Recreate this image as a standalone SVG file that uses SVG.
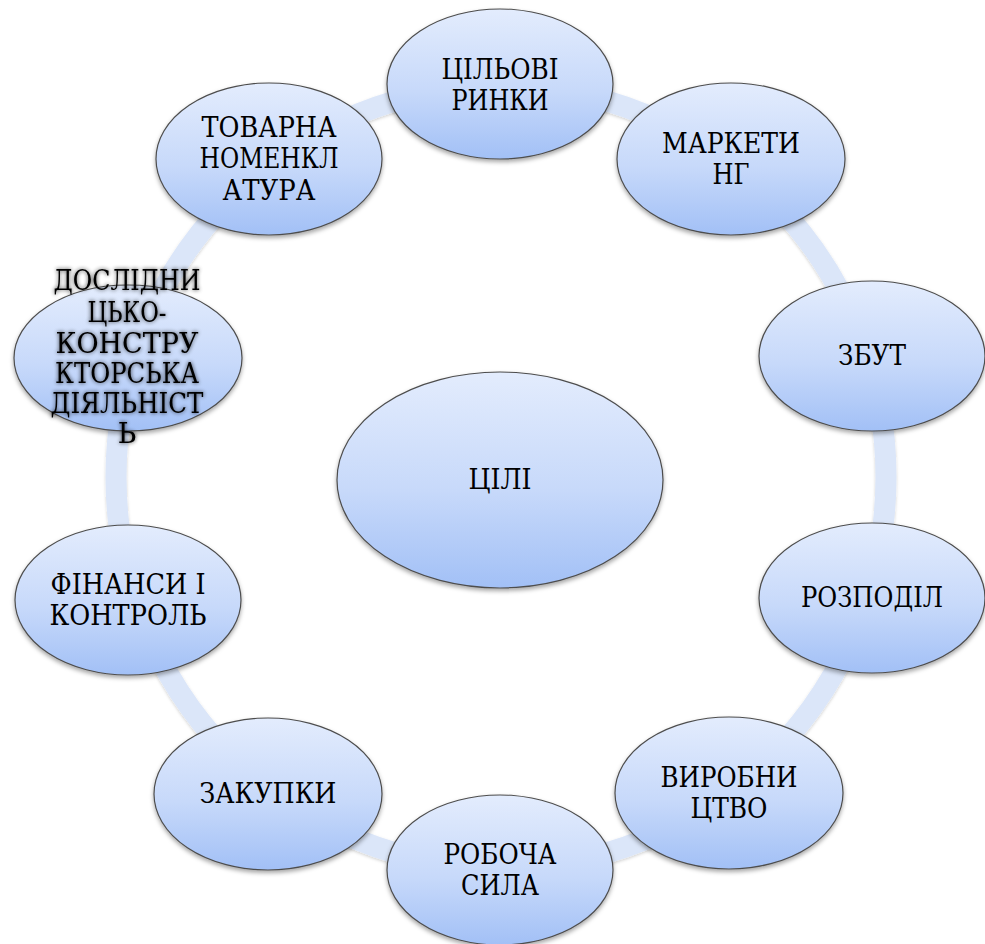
<svg xmlns="http://www.w3.org/2000/svg" width="985" height="944" viewBox="0 0 985 944">
<defs>
<linearGradient id="g" x1="0" y1="0" x2="0" y2="1">
<stop offset="0" stop-color="#e3ecfd"/>
<stop offset="0.55" stop-color="#c7d9fa"/>
<stop offset="1" stop-color="#a2c0f6"/>
</linearGradient>
<filter id="sh" x="-10%" y="-10%" width="120%" height="125%">
<feDropShadow dx="0" dy="2.5" stdDeviation="2" flood-color="#000" flood-opacity="0.35"/>
</filter>
<filter id="rsh" x="-10%" y="-10%" width="120%" height="120%">
<feDropShadow dx="0" dy="1.5" stdDeviation="1.5" flood-color="#000" flood-opacity="0.18"/>
</filter>
<filter id="glow" x="-10%" y="-20%" width="120%" height="140%">
<feGaussianBlur in="SourceAlpha" stdDeviation="2"/>
<feComponentTransfer><feFuncA type="linear" slope="0.8"/></feComponentTransfer>
<feMerge><feMergeNode/><feMergeNode in="SourceGraphic"/></feMerge>
</filter>
</defs>
<style>
.n{fill:url(#g);stroke:#4d4d4d;stroke-width:1.2;filter:url(#sh)}
.t{font-size:27.5px;fill:#000;text-anchor:middle;font-family:'DejaVu Serif','Liberation Serif',serif}
</style>
<rect width="985" height="944" fill="#fff"/>
<g id="connectors">
<ellipse cx="501" cy="477" rx="385" ry="391" fill="none" stroke="#dbe6f9" stroke-width="21" filter="url(#rsh)"/>
</g>
<g id="goals">
<ellipse class="n" cx="500" cy="480" rx="163" ry="108"/>
<text class="t" x="500" y="489" textLength="63" lengthAdjust="spacingAndGlyphs">ЦІЛІ</text>
</g>
<g id="target-markets">
<ellipse class="n" cx="500" cy="84" rx="113" ry="75"/>
<text class="t" x="500" y="79" textLength="117" lengthAdjust="spacingAndGlyphs">ЦІЛЬОВІ</text>
<text class="t" x="500" y="110" textLength="97" lengthAdjust="spacingAndGlyphs">РИНКИ</text>
</g>
<g id="marketing">
<ellipse class="n" cx="731" cy="159" rx="114" ry="76"/>
<text class="t" x="731" y="153" textLength="138" lengthAdjust="spacingAndGlyphs">МАРКЕТИ</text>
<text class="t" x="731" y="184" textLength="37" lengthAdjust="spacingAndGlyphs">НГ</text>
</g>
<g id="sales">
<ellipse class="n" cx="872" cy="356" rx="113" ry="75"/>
<text class="t" x="872" y="365" textLength="68" lengthAdjust="spacingAndGlyphs">ЗБУТ</text>
</g>
<g id="distribution">
<ellipse class="n" cx="872" cy="598" rx="113" ry="75"/>
<text class="t" x="872" y="607" textLength="142" lengthAdjust="spacingAndGlyphs">РОЗПОДІЛ</text>
</g>
<g id="production">
<ellipse class="n" cx="729" cy="793" rx="114" ry="76"/>
<text class="t" x="729" y="787" textLength="137" lengthAdjust="spacingAndGlyphs">ВИРОБНИ</text>
<text class="t" x="729" y="818" textLength="77" lengthAdjust="spacingAndGlyphs">ЦТВО</text>
</g>
<g id="workforce">
<ellipse class="n" cx="500" cy="870" rx="113" ry="75"/>
<text class="t" x="500" y="864" textLength="113" lengthAdjust="spacingAndGlyphs">РОБОЧА</text>
<text class="t" x="500" y="895" textLength="78" lengthAdjust="spacingAndGlyphs">СИЛА</text>
</g>
<g id="purchasing">
<ellipse class="n" cx="268" cy="794" rx="114" ry="76"/>
<text class="t" x="268" y="803" textLength="137" lengthAdjust="spacingAndGlyphs">ЗАКУПКИ</text>
</g>
<g id="finance">
<ellipse class="n" cx="128" cy="600" rx="113" ry="75"/>
<text class="t" x="128" y="594" textLength="155" lengthAdjust="spacingAndGlyphs">ФІНАНСИ І</text>
<text class="t" x="128" y="625" textLength="157" lengthAdjust="spacingAndGlyphs">КОНТРОЛЬ</text>
</g>
<g id="rnd">
<ellipse class="n" cx="128" cy="358" rx="114" ry="73"/>
<g filter="url(#glow)">
<text class="t" x="127" y="290" textLength="147" lengthAdjust="spacingAndGlyphs">ДОСЛІДНИ</text>
<text class="t" x="127" y="322" textLength="79" lengthAdjust="spacingAndGlyphs">ЦЬКО-</text>
<text class="t" x="127" y="353" textLength="143" lengthAdjust="spacingAndGlyphs">КОНСТРУ</text>
<text class="t" x="127" y="383" textLength="144" lengthAdjust="spacingAndGlyphs">КТОРСЬКА</text>
<text class="t" x="127" y="413" textLength="153" lengthAdjust="spacingAndGlyphs">ДІЯЛЬНІСТ</text>
<text class="t" x="127" y="443">Ь</text>
</g>
</g>
<g id="product-range">
<ellipse class="n" cx="269" cy="159" rx="113" ry="76"/>
<text class="t" x="269" y="137" textLength="135" lengthAdjust="spacingAndGlyphs">ТОВАРНА</text>
<text class="t" x="269" y="168" textLength="139" lengthAdjust="spacingAndGlyphs">НОМЕНКЛ</text>
<text class="t" x="269" y="200" textLength="93" lengthAdjust="spacingAndGlyphs">АТУРА</text>
</g>
</svg>
